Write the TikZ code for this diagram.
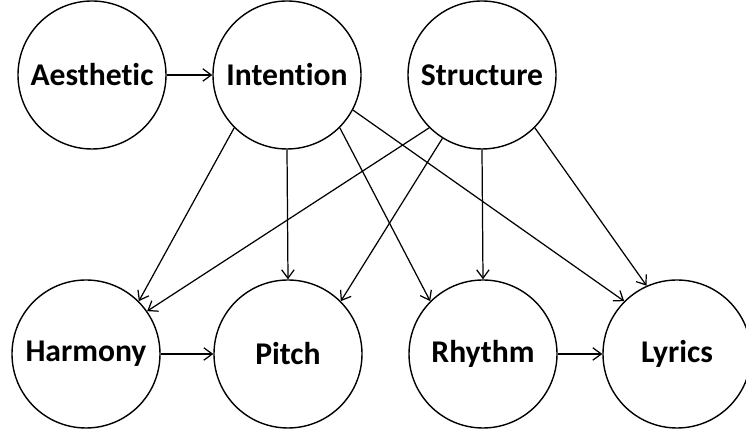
\documentclass[tikz,border=0pt]{standalone}
\usepackage{fontspec}
\setsansfont{Carlito}[Ligatures={NoCommon,NoContextual}]
\usetikzlibrary{arrows.meta}
\tikzset{
var/.style={circle,draw,line width=0.8pt,minimum size=2.96cm,inner sep=0pt,
  font=\sffamily\bfseries\fontsize{18}{22}\selectfont},
arr/.style={-{Straight Barb[length=1.7mm,width=2.5mm]},line width=0.7pt},
}

\begin{document}
\begin{tikzpicture}
        \useasboundingbox (0,0) rectangle (14.92,8.7);

        % top row
        \node[var] (aesthetic) at (1.84,7.2) {Aesthetic};
        \node[var] (intention) at (5.74,7.2) {Intention};
        \node[var] (structure) at (9.64,7.2) {Structure};

        % bottom row
        \node[var] (harmony) at (1.72,1.62) {Harmony};
        \node[var] (pitch) at (5.76,1.62) {Pitch};
        \node[var] (rhythm) at (9.66,1.62) {Rhythm};
        \node[var] (lyrics) at (13.54,1.62) {Lyrics};

        \draw[arr] (aesthetic) -- (intention);
        \draw[arr] (harmony) -- (pitch);
        \draw[arr] (rhythm) -- (lyrics);

        \draw[arr] (intention.225) -- (harmony.45);
        \draw[arr] (intention.south) -- (pitch.north);
        \draw[arr] (intention.-45) -- (rhythm.135);
        \draw[arr] (intention.-28) -- (lyrics.135);

        \draw[arr] (structure.225) -- (harmony.35);
        \draw[arr] (structure.238) -- (pitch.45);
        \draw[arr] (structure.south) -- (rhythm.north);
        \draw[arr] (structure.-45) -- (lyrics.114);
    \end{tikzpicture}
\end{document}
